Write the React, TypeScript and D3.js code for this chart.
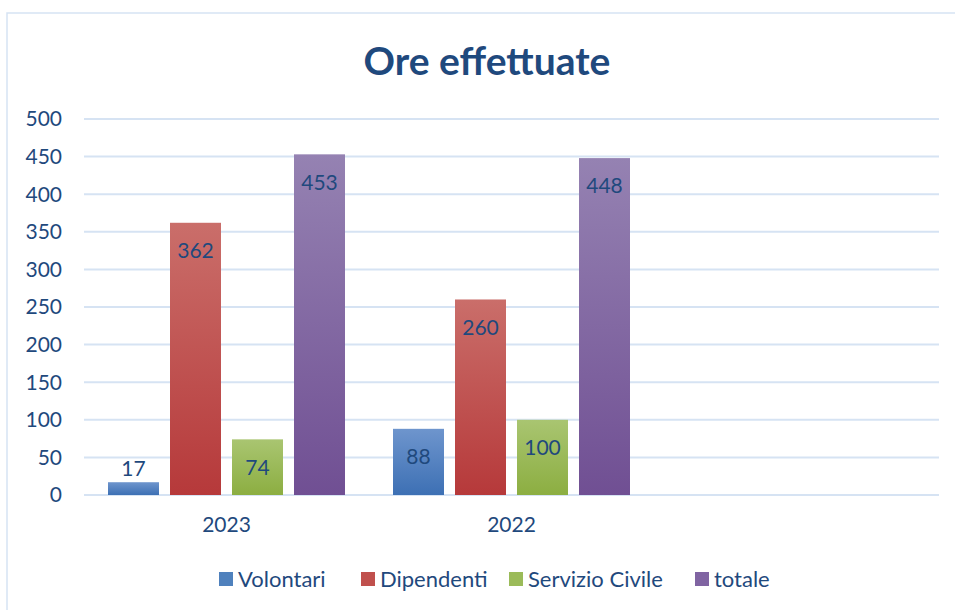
import React from "react";
import * as d3 from "d3";

const categories = ["2023", "2022", ""];
const seriesNames = ["Volontari", "Dipendenti", "Servizio Civile", "totale"];
const volontari = [17, 88, null];
const dipendenti = [362, 260, null];
const servizioCivile = [74, 100, null];
const totale = [453, 448, null];
const yTicks = [0, 50, 100, 150, 200, 250, 300, 350, 400, 450, 500];

const seriesValues = [volontari, dipendenti, servizioCivile, totale];
const gradTop = ["#6e95cd", "#ca6e6a", "#a9c571", "#9582b2"];
const gradBottom = ["#3d70b4", "#b6393a", "#8cae41", "#704f93"];
const legendSwatch = ["#4f81bd", "#c0504d", "#9bbb59", "#8064a2"];
const textColor = "#1f497d";
const font = "Lato, 'Noto Sans', sans-serif";

export default function App() {
  const W = 955, H = 610;
  const plotLeft = 84, plotRight = 939, plotTop = 119, plotBottom = 495;
  const x0 = d3.scaleBand<string>().domain(categories).range([plotLeft, plotRight]).paddingInner(0).paddingOuter(0);
  const groupW = x0.bandwidth();
  const x1 = d3.scaleBand<string>().domain(seriesNames).range([24, groupW - 24]).paddingInner(11 / 62).paddingOuter(0);
  const y = d3.scaleLinear().domain([0, 500]).range([plotBottom, plotTop]);

  return (
    <svg width={W} height={H} style={{ position: "fixed", left: 0, top: 0, background: "#fff" }} fontFamily={font}>
      <defs>
        {seriesNames.map((s, i) => (
          <linearGradient key={s} id={`g${i}`} x1="0" y1="0" x2="0" y2="1">
            <stop offset="0" stopColor={gradTop[i]} />
            <stop offset="1" stopColor={gradBottom[i]} />
          </linearGradient>
        ))}
      </defs>
      <rect x={0} y={0} width={W} height={H} fill="#fff" />
      <rect x={7} y={13} width={W + 20} height={H + 20} fill="none" stroke="#d6e3f3" strokeWidth={1.5} />
      <text x={487} y={75} textAnchor="middle" fontSize={39} fontWeight={700} fill={textColor}>Ore effettuate</text>
      {yTicks.map((t) => (
        <g key={t}>
          <line x1={plotLeft} x2={plotRight} y1={y(t)} y2={y(t)} stroke="#d6e3f3" strokeWidth={2} />
          <text x={62} y={y(t)} dy="0.35em" textAnchor="end" fontSize={21} fill={textColor}>{t}</text>
        </g>
      ))}
      {categories.map((c, ci) => (
        <g key={"c" + ci} transform={`translate(${x0(c)},0)`}>
          {seriesNames.map((s, si) => {
            const v = seriesValues[si][ci];
            if (v == null) return null;
            const bx = x1(s)!;
            const bw = x1.bandwidth();
            const top = y(v);
            const h = plotBottom - top;
            const inside = h > 30;
            const ly = inside ? top + 28 : top - 14;
            return (
              <g key={s}>
                <rect x={bx} y={top} width={bw} height={h} fill={`url(#g${si})`} />
                <text x={bx + bw / 2} y={ly} dy="0.35em" textAnchor="middle" fontSize={21} fill={textColor}>{v}</text>
              </g>
            );
          })}
          <text x={groupW / 2} y={525} dy="0.35em" textAnchor="middle" fontSize={21} fill={textColor}>{c}</text>
        </g>
      ))}
      {(() => {
        const xs = [219, 361, 509, 695];
        return seriesNames.map((s, i) => (
          <g key={"l" + s}>
            <rect x={xs[i]} y={572} width={14} height={14} fill={legendSwatch[i]} />
            <text x={xs[i] + 19} y={579} dy="0.35em" fontSize={22} fill={textColor}>{s}</text>
          </g>
        ));
      })()}
    </svg>
  );
}
